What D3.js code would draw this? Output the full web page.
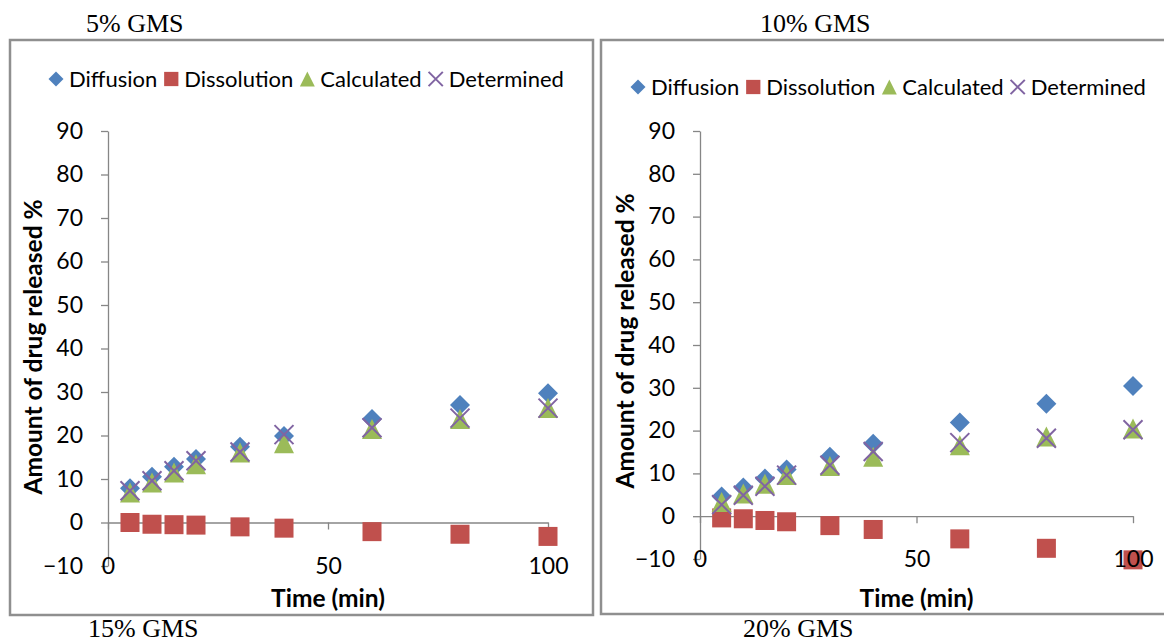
<!DOCTYPE html>
<html>
<head>
<meta charset="utf-8">
<script src="https://cdn.jsdelivr.net/npm/d3@7"></script>
<style>
  body { margin: 0; background: #fff; }
  svg { display: block; }
</style>
</head>
<body>
<div id="chart"></div>
<script>
// time points (min)
var times = [5, 10, 15, 20, 30, 40, 60, 80, 100];

// left panel
var diffusionA   = [7.9, 10.5, 12.8, 14.6, 17.4, 19.9, 23.8, 27.0, 29.7];
var dissolutionA = [0.0, -0.4, -0.5, -0.6, -1.0, -1.3, -2.1, -2.7, -3.2];
var calculatedA  = [6.9, 9.2, 11.5, 13.4, 16.1, 18.2, 21.5, 23.8, 26.3];
var determinedA  = [7.3, 9.6, 11.9, 14.2, 16.2, 20.2, 21.8, 24.0, 26.3];

// right panel
var diffusionB   = [4.6, 6.7, 8.8, 10.9, 13.9, 16.9, 21.9, 26.3, 30.4];
var dissolutionB = [-0.4, -0.6, -1.0, -1.3, -2.2, -3.1, -5.3, -7.5, -10.2];
var calculatedB  = [3.3, 5.3, 7.6, 9.6, 11.7, 13.9, 16.6, 18.6, 20.5];
var determinedB  = [2.7, 4.9, 7.0, 9.6, 11.9, 15.1, 17.2, 18.2, 20.2];

var seriesNames = ["Diffusion", "Dissolution", "Calculated", "Determined"];
var yTicks = [-10, 0, 10, 20, 30, 40, 50, 60, 70, 80, 90];
var xTicks = [0, 50, 100];
var captions = ["5% GMS", "10% GMS", "15% GMS", "20% GMS"];

var colors = ["#4F81BD", "#C0504D", "#9BBB59", "#8064A2"];
var font = "Lato, 'Open Sans', sans-serif";

var W = 1164, H = 642;
var svg = d3.select("#chart").append("svg").attr("width", W).attr("height", H);

// panel frames
svg.append("rect").attr("x", 10).attr("y", 40).attr("width", 583).attr("height", 575)
    .attr("fill", "none").attr("stroke", "#8f8f8f").attr("stroke-width", 2.5);
svg.append("rect").attr("x", 601).attr("y", 40).attr("width", 580).attr("height", 574)
    .attr("fill", "none").attr("stroke", "#8f8f8f").attr("stroke-width", 2.5);

// captions (Times)
function caption(txt, x, y) {
    svg.append("text").attr("x", x).attr("y", y).text(txt)
        .style("font-family", "'Liberation Serif', 'Times New Roman', serif")
        .style("font-size", "26px").attr("fill", "#000");
}
caption(captions[0], 86, 32);
caption(captions[1], 760, 32);
caption(captions[2], 88, 637);
caption(captions[3], 743, 637);

function marker(g, type, x, y, s) {
    var h = s / 2;
    if (type == 0) {
        g.append("path").attr("d", "M" + x + "," + (y - h) + "L" + (x + h) + "," + y + "L" + x + "," + (y + h) + "L" + (x - h) + "," + y + "Z")
            .attr("fill", colors[0]);
    } else if (type == 1) {
        g.append("rect").attr("x", x - h * 0.95).attr("y", y - h * 0.95).attr("width", s * 0.95).attr("height", s * 0.95)
            .attr("fill", colors[1]);
    } else if (type == 2) {
        g.append("path").attr("d", "M" + x + "," + (y - h) + "L" + (x + h) + "," + (y + h) + "L" + (x - h) + "," + (y + h) + "Z")
            .attr("fill", colors[2]);
    } else {
        var k = h * 0.95;
        g.append("path").attr("d", "M" + (x - k) + "," + (y - k) + "L" + (x + k) + "," + (y + k) + "M" + (x + k) + "," + (y - k) + "L" + (x - k) + "," + (y + k))
            .attr("stroke", colors[3]).attr("stroke-width", 2).attr("fill", "none");
    }
}

function drawPanel(p) {
    var g = svg.append("g");
    var xScale = d3.scaleLinear().domain([0, 100]).range([p.x0, p.x1]);
    var yScale = d3.scaleLinear().domain([-10, 90]).range([p.yBot, p.yTop]);

    // y axis
    var yAxis = d3.axisLeft(yScale).tickValues(yTicks).tickSize(7).tickPadding(18).tickSizeOuter(0);
    var gy = g.append("g").attr("transform", "translate(" + p.x0 + ",0)").call(yAxis);
    gy.select(".domain").attr("stroke", "#868686").attr("stroke-width", 1.3);
    gy.selectAll(".tick line").attr("stroke", "#868686").attr("stroke-width", 1.3);
    gy.selectAll(".tick text").style("font-family", font).style("font-size", "23px").attr("fill", "#000");

    // x axis crossing at y = 0
    var xAxis = d3.axisBottom(xScale).tickValues(xTicks).tickSize(7).tickSizeOuter(0).tickFormat("");
    var gx = g.append("g").attr("transform", "translate(0," + yScale(0) + ")").call(xAxis);
    gx.select(".domain").attr("stroke", "#868686").attr("stroke-width", 1.3);
    gx.selectAll(".tick line").attr("stroke", "#868686").attr("stroke-width", 1.3);

    // markers
    var all = [p.diffusion, p.dissolution, p.calculated, p.determined];
    all.forEach(function (vals, si) {
        var ms = g.append("g");
        vals.forEach(function (v, i) {
            marker(ms, si, xScale(times[i]), yScale(v), 20);
        });
    });

    // x tick labels at the bottom of the plot
    var xLab = d3.axisBottom(xScale).tickValues(xTicks).tickSize(0).tickPadding(0);
    var gxl = g.append("g").attr("transform", "translate(0," + yScale(-10) + ")").call(xLab);
    gxl.select(".domain").remove();
    gxl.selectAll(".tick text").attr("y", 0).attr("dy", "0.35em")
        .style("font-family", font).style("font-size", "23px").attr("fill", "#000");

    // axis titles
    g.append("text").attr("transform", "translate(" + (p.x0 - 75) + "," + p.ytitleY + ") rotate(-90)")
        .attr("text-anchor", "middle").attr("dy", "0.35em")
        .style("font-family", font).style("font-size", "24.5px").style("font-weight", "bold")
        .text("Amount of drug released %");
    g.append("text").attr("x", (p.x0 + p.x1) / 2).attr("y", 598).attr("dy", "0.35em")
        .attr("text-anchor", "middle")
        .style("font-family", font).style("font-size", "24.5px").style("font-weight", "bold")
        .text("Time (min)");

    // legend
    var lg = g.append("g");
    var lx = p.legendX;
    seriesNames.forEach(function (name, i) {
        marker(lg, i, lx + 7, p.legendY, 15);
        var t = lg.append("text").attr("x", lx + 20).attr("y", p.legendY).attr("dy", "0.35em")
            .style("font-family", font).style("font-size", "22px").attr("fill", "#000").text(name);
        lx += 20 + t.node().getComputedTextLength() + 7;
    });
}

drawPanel({
    x0: 108, x1: 548, yTop: 131, yBot: 566, ytitleY: 347,
    legendX: 49, legendY: 79,
    diffusion: diffusionA, dissolution: dissolutionA, calculated: calculatedA, determined: determinedA
});
drawPanel({
    x0: 700, x1: 1133, yTop: 131, yBot: 559, ytitleY: 341,
    legendX: 631, legendY: 87,
    diffusion: diffusionB, dissolution: dissolutionB, calculated: calculatedB, determined: determinedB
});
</script>
</body>
</html>
